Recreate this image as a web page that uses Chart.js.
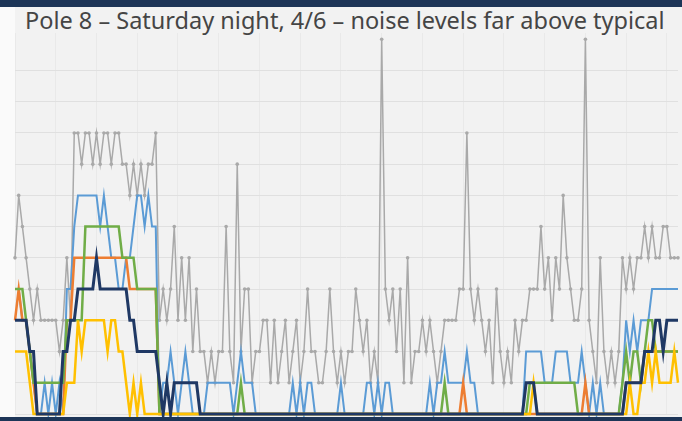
<!DOCTYPE html>
<html><head><meta charset="utf-8">
<script src="https://cdn.jsdelivr.net/npm/chart.js@4.4.1/dist/chart.umd.min.js"></script>
<style>
html,body{margin:0;padding:0;}
body{width:682px;height:421px;overflow:hidden;background:#f2f2f2;position:relative;font-family:"Noto Sans",sans-serif;}
#topbar{position:absolute;left:0;top:0;width:682px;height:7px;background:#1d3557;}
#botbar{position:absolute;left:0;bottom:0;width:682px;height:4px;background:#1d3557;}
#leftstrip{position:absolute;left:0;top:7px;width:15px;height:410px;background:#fafafa;}
#title{position:absolute;left:25px;top:5px;font-size:23.5px;line-height:30px;color:#454545;white-space:nowrap;}
#wrap{position:absolute;left:0;top:0;width:682px;height:421px;}
</style>
</head><body>
<div id="leftstrip"></div>
<div id="topbar"></div>
<div id="title">Pole 8 – Saturday night, 4/6 – noise levels far above typical</div>
<div id="wrap"><canvas id="c" width="682" height="421"></canvas></div>
<div id="botbar"></div>
<script>
const peak = [
5,7,6,5,4,3,4,3,3,3,
3,3,2,3,5,3,9,9,8,9,
9,8,9,8,9,9,8,9,9,8,
8,7,8,7,8,7,8,8,9,3,
4,3,4,6,3,5,3,5,2,4,
2,2,1,2,1,2,2,6,2,1,
8,2,4,4,1,2,2,3,3,1,
3,1,2,3,1,2,3,1,2,4,
2,2,1,1,2,4,2,1,2,1,
2,2,4,3,2,3,1,2,1,12,
4,3,4,2,4,1,5,1,2,2,
3,2,3,2,1,2,3,3,3,3,
4,4,9,4,3,4,3,2,3,1,
4,2,1,2,1,3,2,3,3,4,
4,4,6,4,5,3,5,4,7,5,
4,3,3,4,12,3,2,1,5,2,
1,2,1,2,5,4,5,4,5,5,
6,5,6,5,5,6,6,5,5,5];
const blue = [
4,4,3,3,2,1,0,0,1,0,
1,0,1,0,4,4,6,7,7,7,
7,7,7,6,7,6,5,5,4,4,
5,5,6,7,7,6,7,6,6,0,
1,1,2,1,0,1,2,1,0,0,
0,0,1,1,1,1,1,1,1,0,
1,2,1,1,1,0,0,0,0,0,
0,0,0,0,0,1,0,1,0,1,
1,0,0,0,0,0,0,0,1,0,
0,0,0,0,0,1,1,0,1,0,
1,1,0,0,0,0,0,0,0,0,
0,0,1,0,1,1,2,1,1,1,
1,1,2,1,1,0,0,0,0,0,
0,0,0,0,0,0,0,0,2,2,
2,2,2,1,1,1,2,2,2,2,
1,1,1,2,1,0,1,0,1,0,
0,0,0,0,1,3,2,3,2,3,
3,3,4,4,4,4,4,4,4,4];
const green = [
4,4,4,3,2,1,1,1,1,1,
1,1,1,1,3,3,3,3,3,6,
6,6,6,6,6,6,6,6,6,5,
5,5,5,4,4,4,4,4,4,0,
0,0,0,0,0,0,0,0,0,0,
0,0,0,0,0,0,0,0,0,0,
0,1,0,0,0,0,0,0,0,0,
0,0,0,0,0,0,0,0,0,0,
0,0,0,0,0,0,0,0,0,0,
0,0,0,0,0,0,0,0,0,0,
0,0,0,0,0,0,0,0,0,0,
0,0,0,0,0,0,1,0,0,0,
0,0,0,0,0,0,0,0,0,0,
0,0,0,0,0,0,0,0,0,1,
1,1,1,1,1,1,1,1,1,1,
1,1,0,0,0,0,0,0,0,0,
0,0,0,0,1,2,1,2,2,1,
2,3,3,2,2,2,2,2,2,2];
const orange = [
3,4,3,3,2,1,0,0,0,0,
0,0,0,0,3,3,5,5,5,5,
5,5,5,5,5,5,5,5,5,5,
5,4,4,4,4,4,4,4,4,0,
0,0,0,0,0,0,0,0,0,0,
0,0,0,0,0,0,0,0,0,0,
0,0,0,0,0,0,0,0,0,0,
0,0,0,0,0,0,0,0,0,0,
0,0,0,0,0,0,0,0,0,0,
0,0,0,0,0,0,0,0,0,0,
0,0,0,0,0,0,0,0,0,0,
0,0,0,0,0,0,0,0,0,0,
0,1,0,0,0,0,0,0,0,0,
0,0,0,0,0,0,0,0,0,0,
0,0,0,0,0,0,0,0,0,0,
0,0,0,0,1,0,0,0,0,0,
0,0,0,0,0,1,1,1,1,1,
2,2,2,2,2,2,2,2,2,2];
const navy = [
3,3,3,3,2,2,0,0,0,0,
0,0,0,2,2,3,3,4,4,4,
4,4,5,4,4,4,4,4,4,4,
4,3,3,2,2,2,2,2,2,1,
0,1,0,1,1,1,1,1,1,1,
0,0,0,0,0,0,0,0,0,0,
0,0,0,0,0,0,0,0,0,0,
0,0,0,0,0,0,0,0,0,0,
0,0,0,0,0,0,0,0,0,0,
0,0,0,0,0,0,0,0,0,0,
0,0,0,0,0,0,0,0,0,0,
0,0,0,0,0,0,0,0,0,0,
0,0,0,0,0,0,0,0,0,0,
0,0,0,0,0,0,0,0,1,1,
1,0,0,0,0,0,0,0,0,0,
0,0,0,0,0,0,0,0,0,0,
0,0,0,0,0,1,1,1,1,1,
2,2,2,3,3,2,3,3,3,3];
const yellow = [
2,2,2,2,1,0,0,0,0,0,
0,0,0,0,1,1,1,3,2,3,
3,3,3,3,3,2,3,3,2,2,
1,0,1,0,1,0,0,0,0,0,
0,0,0,0,0,0,0,0,0,0,
0,0,0,0,0,0,0,0,0,0,
0,0,0,0,0,0,0,0,0,0,
0,0,0,0,0,0,0,0,0,0,
0,0,0,0,0,0,0,0,0,0,
0,0,0,0,0,0,0,0,0,0,
0,0,0,0,0,0,0,0,0,0,
0,0,0,0,0,0,0,0,0,0,
0,0,0,0,0,0,0,0,0,0,
0,0,0,0,0,0,0,0,0,0,
1,0,0,0,0,0,0,0,0,0,
0,0,0,0,0,0,0,0,0,0,
0,0,0,0,0,0,1,0,0,1,
1,2,1,2,1,1,1,1,2,1];
const categories = peak.map((_, i) => String(i + 1));

function ds(label, data, color, width, order, pr) {
  return { label, data, borderColor: color, backgroundColor: color, borderWidth: width,
    pointRadius: pr, pointBackgroundColor: color, pointBorderWidth: 0, tension: 0,
    order, clip: false, fill: false };
}

new Chart(document.getElementById('c'), {
  type: 'line',
  data: {
    labels: categories,
    datasets: [
      ds('Peak', peak, '#a9a9a9', 1.5, 5, 1.8),
      ds('Blue', blue, '#5b9bd5', 2, 4, 0),
      ds('Orange', orange, '#ed7d31', 2.5, 3, 0),
      ds('Green', green, '#70ad47', 2.5, 2, 0),
      ds('Yellow', yellow, '#ffc000', 2.5, 1, 0),
      ds('Navy', navy, '#1f3864', 3, 0, 0)
    ]
  },
  options: {
    responsive: false,
    animation: false,
    layout: { padding: { left: 15, right: 0, top: 33, bottom: 7 } },
    plugins: { legend: { display: false }, title: { display: false }, tooltip: { enabled: false } },
    scales: {
      x: {
        offset: false,
        ticks: { display: false },
        border: { display: false },
        grid: { drawTicks: false, color: (c) => (c.index % 11 === 0 ? '#e9e9e9' : 'rgba(0,0,0,0)') }
      },
      y: {
        min: 0, max: 12.2,
        ticks: { display: false, stepSize: 1 },
        border: { display: false },
        grid: { drawTicks: false, color: (c) => (c.tick && Number.isInteger(c.tick.value) ? '#e0e0e0' : 'rgba(0,0,0,0)') }
      }
    }
  }
});
</script>
</body></html>
